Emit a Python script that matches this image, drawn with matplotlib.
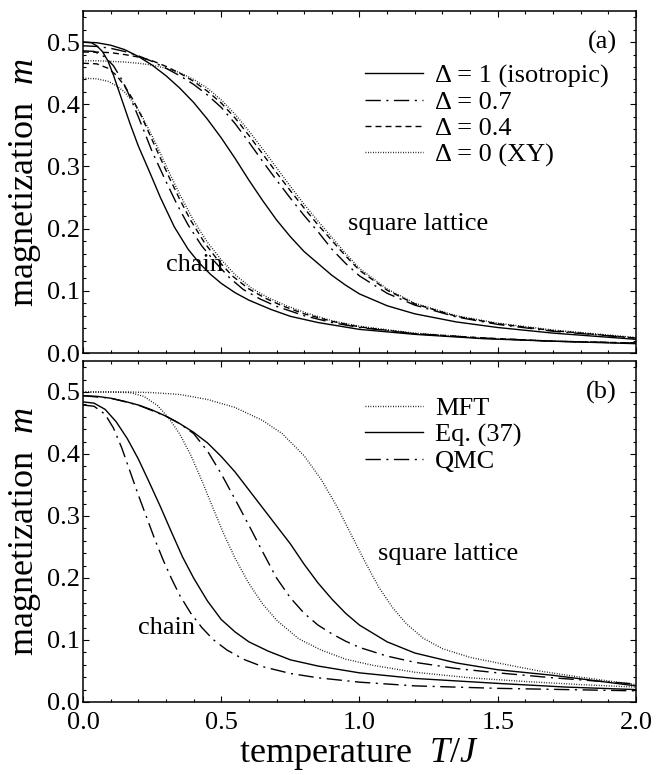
import matplotlib
matplotlib.use("Agg")
import matplotlib.pyplot as plt
from matplotlib.ticker import MultipleLocator, FormatStrFormatter

plt.rcParams['font.family'] = ['Liberation Serif', 'DejaVu Serif']
plt.rcParams['mathtext.fontset'] = 'custom'
plt.rcParams['mathtext.rm'] = 'Liberation Serif'
plt.rcParams['mathtext.it'] = 'Liberation Serif:italic'

# ---- panel (a): XXZ anisotropy, chain and square lattice ----
chain_d10_T = [0, 0.03, 0.05, 0.07, 0.09, 0.11, 0.14, 0.17, 0.20, 0.24, 0.28, 0.33, 0.38, 0.42, 0.46, 0.50,
               0.55, 0.60, 0.68, 0.75, 0.85, 1.0, 1.2, 1.45, 1.7, 2.0]
chain_d10_m = [0.500, 0.499, 0.494, 0.485, 0.470, 0.447, 0.408, 0.369, 0.333, 0.292, 0.250, 0.203, 0.167, 0.145,
               0.127, 0.112, 0.097, 0.085, 0.070, 0.059, 0.049, 0.038, 0.030, 0.023, 0.019, 0.015]

chain_d07_T = [0, 0.04, 0.08, 0.11, 0.14, 0.17, 0.20, 0.25, 0.30, 0.34, 0.38, 0.43, 0.48, 0.53, 0.58, 0.64,
               0.70, 0.80, 0.90, 1.0, 1.2, 1.45, 1.7, 2.0]
chain_d07_m = [0.486, 0.485, 0.476, 0.462, 0.440, 0.412, 0.380, 0.324, 0.276, 0.239, 0.206, 0.172, 0.145, 0.121,
               0.102, 0.087, 0.075, 0.060, 0.049, 0.041, 0.031, 0.024, 0.019, 0.016]

chain_d04_T = [0, 0.05, 0.09, 0.12, 0.15, 0.18, 0.21, 0.26, 0.31, 0.35, 0.39, 0.44, 0.49, 0.54, 0.60, 0.66,
               0.72, 0.80, 0.90, 1.0, 1.2, 1.45, 1.7, 2.0]
chain_d04_m = [0.466, 0.465, 0.458, 0.447, 0.430, 0.408, 0.382, 0.333, 0.284, 0.247, 0.213, 0.177, 0.148, 0.124,
               0.103, 0.088, 0.076, 0.063, 0.051, 0.042, 0.031, 0.024, 0.019, 0.016]

chain_d00_T = [0, 0.05, 0.09, 0.12, 0.15, 0.18, 0.21, 0.26, 0.31, 0.35, 0.40, 0.45, 0.50, 0.55, 0.61, 0.67,
               0.73, 0.81, 0.90, 1.0, 1.2, 1.45, 1.7, 2.0]
chain_d00_m = [0.442, 0.441, 0.437, 0.430, 0.420, 0.404, 0.384, 0.340, 0.292, 0.255, 0.213, 0.178, 0.150, 0.126,
               0.104, 0.089, 0.077, 0.064, 0.052, 0.043, 0.032, 0.024, 0.019, 0.016]

sq_T = [0, 0.05, 0.10, 0.15, 0.20, 0.25, 0.30, 0.35, 0.40, 0.45, 0.50, 0.55, 0.60, 0.65, 0.70, 0.75, 0.80,
        0.85, 0.90, 0.95, 1.0, 1.1, 1.2, 1.35, 1.5, 1.7, 2.0]
sq_d10_m = [0.500, 0.499, 0.495, 0.488, 0.477, 0.463, 0.446, 0.426, 0.403, 0.376, 0.346, 0.313, 0.278, 0.245,
            0.214, 0.187, 0.163, 0.144, 0.125, 0.109, 0.095, 0.076, 0.063, 0.050, 0.041, 0.032, 0.022]
sq_d07_m = [0.494, 0.493, 0.490, 0.485, 0.478, 0.469, 0.458, 0.446, 0.432, 0.415, 0.395, 0.369, 0.339, 0.308,
            0.278, 0.249, 0.221, 0.195, 0.167, 0.144, 0.124, 0.096, 0.077, 0.058, 0.046, 0.035, 0.024]
sq_d04_m = [0.484, 0.484, 0.483, 0.480, 0.476, 0.470, 0.461, 0.450, 0.437, 0.421, 0.402, 0.378, 0.350, 0.320,
            0.290, 0.261, 0.233, 0.206, 0.181, 0.156, 0.133, 0.101, 0.079, 0.059, 0.047, 0.036, 0.024]
sq_d00_m = [0.470, 0.470, 0.469, 0.468, 0.466, 0.463, 0.458, 0.451, 0.440, 0.426, 0.407, 0.384, 0.357, 0.328,
            0.298, 0.268, 0.239, 0.212, 0.186, 0.160, 0.136, 0.103, 0.080, 0.060, 0.048, 0.037, 0.025]

# ---- panel (b): MFT vs Eq. (37) vs QMC ----
mft_chain_T = [0, 0.1, 0.17, 0.22, 0.27, 0.31, 0.35, 0.39, 0.43, 0.47, 0.51, 0.55, 0.60, 0.65, 0.70, 0.78,
               0.86, 0.95, 1.05, 1.2, 1.4, 1.6, 1.8, 2.0]
mft_chain_m = [0.500, 0.500, 0.499, 0.493, 0.478, 0.458, 0.432, 0.398, 0.357, 0.313, 0.270, 0.232, 0.191, 0.158,
               0.132, 0.102, 0.084, 0.069, 0.059, 0.048, 0.039, 0.033, 0.028, 0.024]

mft_sq_T = [0, 0.1, 0.17, 0.25, 0.35, 0.45, 0.55, 0.65, 0.72, 0.80, 0.86, 0.92, 0.97, 1.02, 1.07, 1.12, 1.17,
            1.23, 1.30, 1.40, 1.50, 1.65, 1.80, 2.0]
mft_sq_m = [0.500, 0.500, 0.500, 0.499, 0.496, 0.488, 0.475, 0.454, 0.433, 0.397, 0.360, 0.314, 0.270, 0.226,
            0.185, 0.152, 0.126, 0.103, 0.086, 0.072, 0.063, 0.050, 0.040, 0.028]

eq_chain_T = [0, 0.04, 0.08, 0.12, 0.16, 0.20, 0.24, 0.28, 0.32, 0.36, 0.40, 0.45, 0.50, 0.55, 0.60, 0.67,
              0.75, 0.85, 1.0, 1.2, 1.5, 1.75, 2.0]
eq_chain_m = [0.484, 0.482, 0.472, 0.452, 0.425, 0.392, 0.354, 0.315, 0.274, 0.234, 0.200, 0.163, 0.133, 0.113,
              0.097, 0.082, 0.068, 0.058, 0.047, 0.038, 0.030, 0.024, 0.020]

eq_sq_T = [0, 0.05, 0.10, 0.15, 0.20, 0.25, 0.30, 0.35, 0.40, 0.45, 0.50, 0.55, 0.60, 0.65, 0.70, 0.75, 0.80,
           0.85, 0.90, 0.95, 1.0, 1.1, 1.2, 1.35, 1.5, 1.7, 2.0]
eq_sq_m = [0.494, 0.493, 0.490, 0.485, 0.479, 0.471, 0.461, 0.449, 0.435, 0.418, 0.396, 0.371, 0.342, 0.313,
           0.284, 0.255, 0.222, 0.192, 0.166, 0.143, 0.124, 0.097, 0.079, 0.063, 0.052, 0.043, 0.026]

qmc_chain_T = [0, 0.04, 0.08, 0.11, 0.14, 0.17, 0.20, 0.23, 0.26, 0.29, 0.32, 0.35, 0.39, 0.43, 0.47, 0.52,
               0.58, 0.65, 0.75, 0.85, 1.0, 1.2, 1.5, 1.75, 2.0]
qmc_chain_m = [0.479, 0.477, 0.464, 0.442, 0.410, 0.372, 0.334, 0.298, 0.262, 0.229, 0.199, 0.172, 0.143, 0.120,
               0.101, 0.084, 0.069, 0.057, 0.046, 0.039, 0.032, 0.026, 0.022, 0.020, 0.018]

qmc_sq_T = [0, 0.1, 0.2, 0.3, 0.35, 0.40, 0.45, 0.50, 0.55, 0.60, 0.65, 0.70, 0.75, 0.80, 0.85, 0.90, 0.95,
            1.0, 1.1, 1.2, 1.35, 1.5, 1.7, 2.0]
qmc_sq_m = [0.494, 0.490, 0.479, 0.461, 0.449, 0.433, 0.405, 0.368, 0.327, 0.285, 0.242, 0.200, 0.168, 0.143,
            0.124, 0.110, 0.098, 0.088, 0.074, 0.064, 0.054, 0.047, 0.039, 0.029]

legend_a = ['Δ = 1 (isotropic)', 'Δ = 0.7', 'Δ = 0.4', 'Δ = 0 (XY)']
legend_b = ['MFT', 'Eq. (37)', 'QMC']

LW = 1.0
DASHDOT = (0, (11, 4, 1.5, 4))
DASHED = (0, (4.3, 2.9))
DOTTED = (0, (0.6, 1.2))
FS_TICK = 19
FS_LABEL = 26
FS_TEXT = 19


def style_axes(ax):
    ax.set_xlim(0, 2.0)
    ax.set_ylim(0, 0.55)
    ax.xaxis.set_major_locator(MultipleLocator(0.5))
    ax.xaxis.set_minor_locator(MultipleLocator(0.1))
    ax.yaxis.set_major_locator(MultipleLocator(0.1))
    ax.yaxis.set_minor_locator(MultipleLocator(0.02))
    ax.xaxis.set_major_formatter(FormatStrFormatter('%.1f'))
    ax.yaxis.set_major_formatter(FormatStrFormatter('%.1f'))
    ax.tick_params(which='both', direction='in', top=True, right=True, labelsize=FS_TICK, width=0.8)
    ax.tick_params(which='major', length=4.5)
    ax.tick_params(which='minor', length=2.3)
    ax.tick_params(axis='y', pad=2)
    ax.tick_params(axis='x', pad=7)
    for sp in ax.spines.values():
        sp.set_linewidth(1.1)
    ax.set_ylabel('magnetization  $m$', fontsize=FS_LABEL, labelpad=3)


fig = plt.figure(figsize=(6.65, 7.75), dpi=100)
ax1 = fig.add_axes([0.1248, 0.5445, 0.8316, 0.4413])
ax2 = fig.add_axes([0.1248, 0.0942, 0.8316, 0.4400])

# panel (a)
h1, = ax1.plot(sq_T, sq_d10_m, color='black', lw=LW, ls='-')
h2, = ax1.plot(sq_T, sq_d07_m, color='black', lw=LW, ls=DASHDOT)
h3, = ax1.plot(sq_T, sq_d04_m, color='black', lw=LW, ls=DASHED)
h4, = ax1.plot(sq_T, sq_d00_m, color='black', lw=LW, ls=DOTTED)
ax1.plot(chain_d10_T, chain_d10_m, color='black', lw=LW, ls='-')
ax1.plot(chain_d07_T, chain_d07_m, color='black', lw=LW, ls=DASHDOT)
ax1.plot(chain_d04_T, chain_d04_m, color='black', lw=LW, ls=DASHED)
ax1.plot(chain_d00_T, chain_d00_m, color='black', lw=LW, ls=DOTTED)
style_axes(ax1)
ax1.tick_params(labelbottom=False)
ax1.legend([h1, h2, h3, h4], legend_a, loc='upper left', bbox_to_anchor=(0.51, 0.845),
           frameon=False, fontsize=FS_TEXT, handlelength=2.2, handletextpad=0.45,
           labelspacing=0.1, borderpad=0, borderaxespad=0)
ax1.text(1.93, 0.5, '(a)', fontsize=FS_TEXT, ha='right', va='center')
ax1.text(0.96, 0.208, 'square lattice', fontsize=FS_TEXT, ha='left', va='center')
ax1.text(0.30, 0.142, 'chain', fontsize=FS_TEXT, ha='left', va='center')

# panel (b)
g1, = ax2.plot(mft_sq_T, mft_sq_m, color='black', lw=LW, ls=DOTTED)
g2, = ax2.plot(eq_sq_T, eq_sq_m, color='black', lw=LW, ls='-')
g3, = ax2.plot(qmc_sq_T, qmc_sq_m, color='black', lw=LW, ls=DASHDOT)
ax2.plot(mft_chain_T, mft_chain_m, color='black', lw=LW, ls=DOTTED)
ax2.plot(eq_chain_T, eq_chain_m, color='black', lw=LW, ls='-')
ax2.plot(qmc_chain_T, qmc_chain_m, color='black', lw=LW, ls=DASHDOT)
style_axes(ax2)
ax2.legend([g1, g2, g3], legend_b, loc='upper left', bbox_to_anchor=(0.51, 0.895),
           frameon=False, fontsize=FS_TEXT, handlelength=2.2, handletextpad=0.45,
           labelspacing=0.1, borderpad=0, borderaxespad=0)
ax2.text(1.93, 0.5, '(b)', fontsize=FS_TEXT, ha='right', va='center')
ax2.text(1.066, 0.238, 'square lattice', fontsize=FS_TEXT, ha='left', va='center')
ax2.text(0.20, 0.119, 'chain', fontsize=FS_TEXT, ha='left', va='center')
ax2.set_xlabel('temperature  $T/J$', fontsize=FS_LABEL, labelpad=2)

fig.savefig('out.png', dpi=100)
